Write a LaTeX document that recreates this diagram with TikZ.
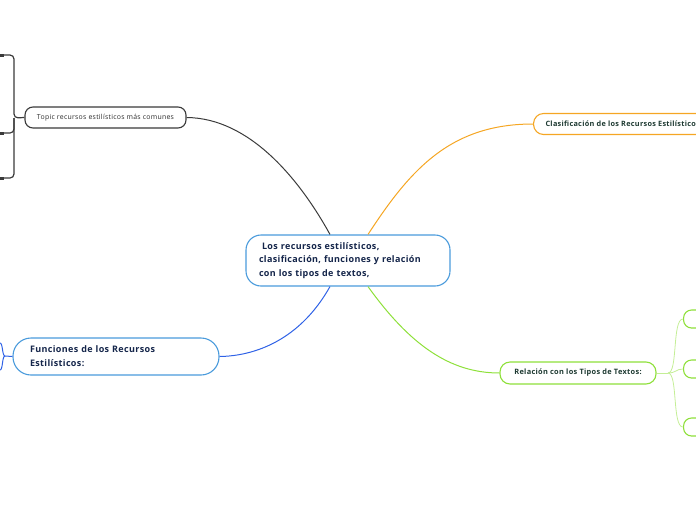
\documentclass[tikz,border=0pt]{standalone}
\usepackage{fontspec}
\setmainfont{Open Sans}
\newfontfamily\osp[LetterSpace=4]{Open Sans}
\definecolor{cblue}{HTML}{4A9BDC}
\definecolor{cbluel}{HTML}{2F62E6}
\definecolor{corange}{HTML}{F5A623}
\definecolor{cgreen}{HTML}{8EE03A}
\definecolor{cgreenl}{HTML}{C4EE96}
\definecolor{cgray}{HTML}{3A3A3A}
\definecolor{tnavy}{HTML}{14254A}
\definecolor{tdark}{HTML}{1E3A32}
\tikzset{
  box/.style={draw, rounded corners=#1, line width=1.1pt, fill=white, inner ysep=0pt},
  box/.default=10pt,
  conn/.style={line width=1pt},
  bigtxt/.style={font=\osp\bfseries\fontsize{9}{13.8}\selectfont, text=tnavy},
  smtxt/.style={font=\osp\bfseries\fontsize{7.3}{9}\selectfont, text=tdark},
}
\begin{document}
\begin{tikzpicture}[x=1pt,y=-1pt]
\path[use as bounding box] (0,0) rectangle (696,520);
\clip (0,0) rectangle (696,520);
% nodes
\node[box=15pt, draw=cblue, bigtxt, minimum width=204pt, minimum height=51pt,
      text width=178pt, align=left, inner xsep=13pt] (central) at (348,260.5)
      {\ Los recursos estilísticos,\\clasificación, funciones y relación\\con los tipos de textos,};
\node[box=8pt, draw=cgray, minimum width=161pt, minimum height=21pt,
      font=\osp\fontsize{6.9}{8}\selectfont, text=cgray!80!black] (topic) at (105.5,117.5)
      {Topic recursos estilísticos más comunes};
\node[box=10pt, draw=corange, smtxt, anchor=west, minimum height=21pt, inner xsep=12pt]
      (clas) at (533,124) {Clasificación de los Recursos Estilísticos};
\node[box=18pt, draw=cblue, bigtxt, minimum width=206pt, minimum height=37pt,
      text width=172pt, align=left, inner xsep=17pt] (func) at (116,356.5)
      {Funciones de los Recursos\\Estilísticos:};
\node[box=10pt, draw=cgreen, smtxt, font=\osp\bfseries\fontsize{7.4}{9}\selectfont,
      minimum width=156pt, minimum height=22pt]
      (rel) at (578,373) {Relación con los Tipos de Textos:};
\node[box=8pt, draw=cgreen, smtxt, anchor=west, minimum height=18pt, inner xsep=10pt, minimum width=60pt, align=left]
      (r1) at (683,319) {E};
\node[box=8pt, draw=cgreen, smtxt, anchor=west, minimum height=18pt, inner xsep=10pt, minimum width=60pt, align=left]
      (r2) at (683,369) {E};
\node[box=8pt, draw=cgreen, smtxt, anchor=west, minimum height=18pt, inner xsep=10pt, minimum width=60pt, align=left]
      (r3) at (683,427) {E};
% off-canvas children (coordinates)
\coordinate (tj) at (14,118);
\coordinate (t1) at (0,55);
\coordinate (t2) at (0,133);
\coordinate (t3) at (0,178);
\coordinate (fj) at (5,356);
\coordinate (f1) at (0,343);
\coordinate (f2) at (0,370);
\coordinate (rj) at (668,373);
% main connectors
\draw[conn, cgray] (topic.east) .. controls (250,118) and (300,180) .. ([xshift=-18pt]central.north);
\draw[conn, corange] ([xshift=20pt]central.north) .. controls (410,170) and (450,124) .. (clas.west);
\draw[conn, cbluel] ([xshift=-18pt]central.south) .. controls (300,340) and (255,356) .. (func.east);
\draw[conn, cgreen] ([xshift=20pt]central.south) .. controls (410,345) and (450,373) .. (rel.west);
% topic bracket
\draw[line width=1.2pt, cgray, rounded corners=4pt] (topic.west) -- (tj) |- (t1);
\draw[line width=1.2pt, cgray, rounded corners=4pt] (tj) |- (t2);
\draw[line width=1.2pt, cgray, rounded corners=4pt] (tj) |- (t3);
\foreach \t in {t1,t2,t3} \fill[cgray] (\t) ++(0,-1.5) rectangle ++(4,3);
% funciones bracket
\draw[conn, cbluel] (func.west) -- (fj);
\draw[conn, cbluel] (fj) .. controls (2,356) and (3,343) .. (f1);
\draw[conn, cbluel] (fj) .. controls (2,356) and (3,370) .. (f2);
% relacion children
\draw[line width=0.8pt, cgreenl] (rel.east) -- (rj);
\draw[line width=0.8pt, cgreenl] (rj) .. controls (678,373) and (672,319) .. (r1.west);
\draw[line width=0.8pt, cgreenl] (rj) .. controls (676,373) and (676,369) .. (r2.west);
\draw[line width=0.8pt, cgreenl] (rj) .. controls (678,373) and (672,427) .. (r3.west);
\end{tikzpicture}
\end{document}
